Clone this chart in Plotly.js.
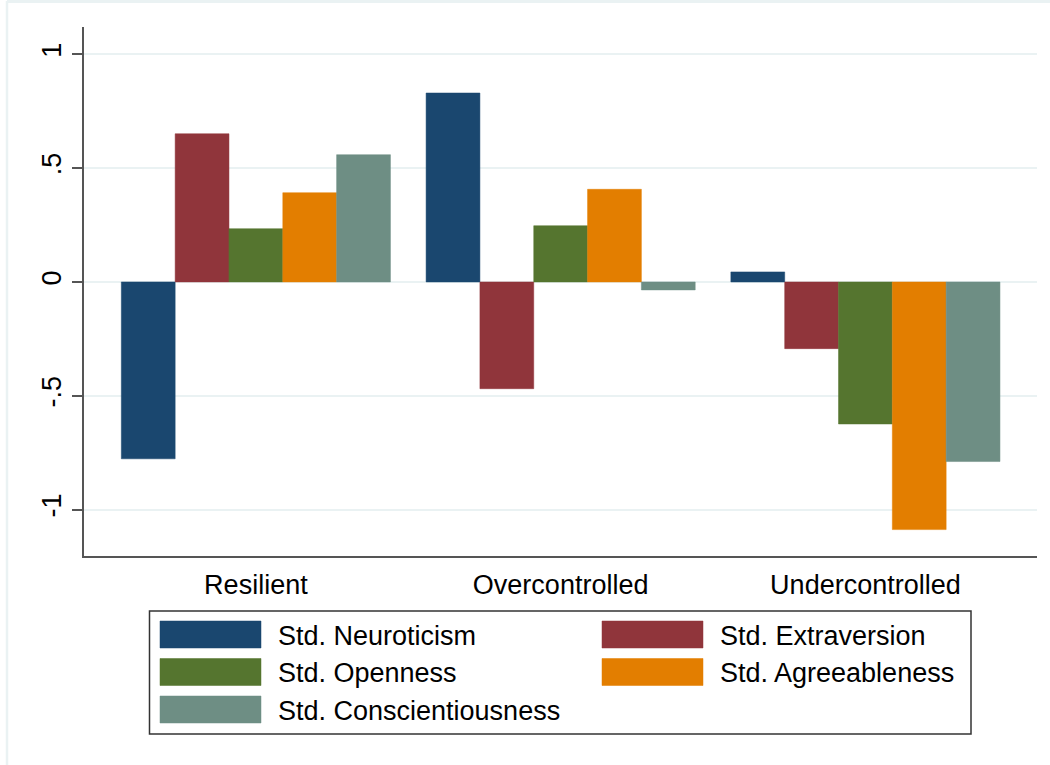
<!DOCTYPE html>
<html>
<head>
<meta charset="utf-8">
<script src="https://cdn.plot.ly/plotly-3.0.1.min.js"></script>
<style>html,body{margin:0;padding:0;background:#fff;}#chart{width:1050px;height:765px;}</style>
</head>
<body>
<div id="chart"></div>
<script>
const categories = ["Resilient", "Overcontrolled", "Undercontrolled"];
const seriesNames = ["Std. Neuroticism", "Std. Extraversion", "Std. Openness", "Std. Agreeableness", "Std. Conscientiousness"];
const neuroticism = [-0.777, 0.83, 0.044];
const extraversion = [0.651, -0.469, -0.293];
const openness = [0.234, 0.247, -0.624];
const agreeableness = [0.392, 0.407, -1.088];
const conscientiousness = [0.559, -0.035, -0.789];
const seriesColors = ["#1a476f", "#90353b", "#55752f", "#e37e00", "#6e8e84"];
const yTickVals = [-1, -0.5, 0, 0.5, 1];
const yTickText = ["-1", "-.5", "0", ".5", "1"];

const seriesValues = [neuroticism, extraversion, openness, agreeableness, conscientiousness];
const FONT = "Liberation Sans, Arial, sans-serif";

const W = 1050, H = 765;
const mL = 84, mR = 13, mT = 27, mB = 209;
const pw = W - mL - mR, ph = H - mT - mB;
const px = x => (x - mL) / pw;
const py = y => (H - mB - y) / ph;

const traces = seriesNames.map((n, i) => ({
  type: "bar",
  name: n,
  x: categories,
  y: seriesValues[i],
  marker: {color: seriesColors[i], line: {color: seriesColors[i], width: 0.5}},
  showlegend: false,
  hoverinfo: "x+y+name"
}));

// legend built from series names/colours (layout only)
const shapes = [];
const annotations = [];
// outer graph-region frame
shapes.push({type: "line", xref: "paper", yref: "paper", x0: px(7), x1: px(7), y0: py(1), y1: py(765), line: {color: "#eaf2f3", width: 2.5}});
shapes.push({type: "line", xref: "paper", yref: "paper", x0: px(7), x1: px(1050), y0: py(1.5), y1: py(1.5), line: {color: "#eaf2f3", width: 3}});
// legend box
shapes.push({type: "rect", xref: "paper", yref: "paper", x0: px(149.5), x1: px(971), y0: py(611), y1: py(734), line: {color: "#333333", width: 1.5}, fillcolor: "#ffffff"});
const colX = [160, 602];
const rowY = [634.5, 672, 709.5];
seriesNames.forEach((n, i) => {
  const c = i % 2, r = Math.floor(i / 2);
  const sx = colX[c], sy = rowY[r];
  shapes.push({type: "rect", xref: "paper", yref: "paper", x0: px(sx), x1: px(sx + 101), y0: py(sy - 13.5), y1: py(sy + 13.5), line: {color: seriesColors[i], width: 0.5}, fillcolor: seriesColors[i]});
  annotations.push({xref: "paper", yref: "paper", x: px(sx + 116), y: py(sy + 1), text: n, showarrow: false, xanchor: "left", yanchor: "middle", font: {family: FONT, size: 27, color: "#000"}});
});

const layout = {
  width: W, height: H,
  margin: {l: mL, r: mR, t: mT, b: mB, pad: 0},
  paper_bgcolor: "#ffffff",
  plot_bgcolor: "#ffffff",
  barmode: "group",
  bargap: 0.117,
  bargroupgap: 0,
  font: {family: FONT, size: 27, color: "#000"},
  xaxis: {
    type: "category",
    range: [-0.564, 2.563],
    showline: true, linecolor: "#555555", linewidth: 1.5,
    ticks: "", showgrid: false, zeroline: false,
    tickfont: {family: FONT, size: 27, color: "#000"},
    ticklabelstandoff: 4,
    fixedrange: true
  },
  yaxis: {
    range: [-1.204, 1.12],
    tickvals: yTickVals, ticktext: yTickText,
    tickangle: -90,
    ticks: "outside", ticklen: 10, tickwidth: 1.5, tickcolor: "#555555",
    showline: true, linecolor: "#555555", linewidth: 1.5,
    showgrid: true, gridcolor: "#eaf2f3", gridwidth: 1.5,
    zeroline: true, zerolinecolor: "#eaf2f3", zerolinewidth: 1.5,
    tickfont: {family: FONT, size: 27, color: "#000"},
    fixedrange: true
  },
  shapes: shapes,
  annotations: annotations
};

Plotly.newPlot("chart", traces, layout, {displayModeBar: false, staticPlot: false});
</script>
</body>
</html>
